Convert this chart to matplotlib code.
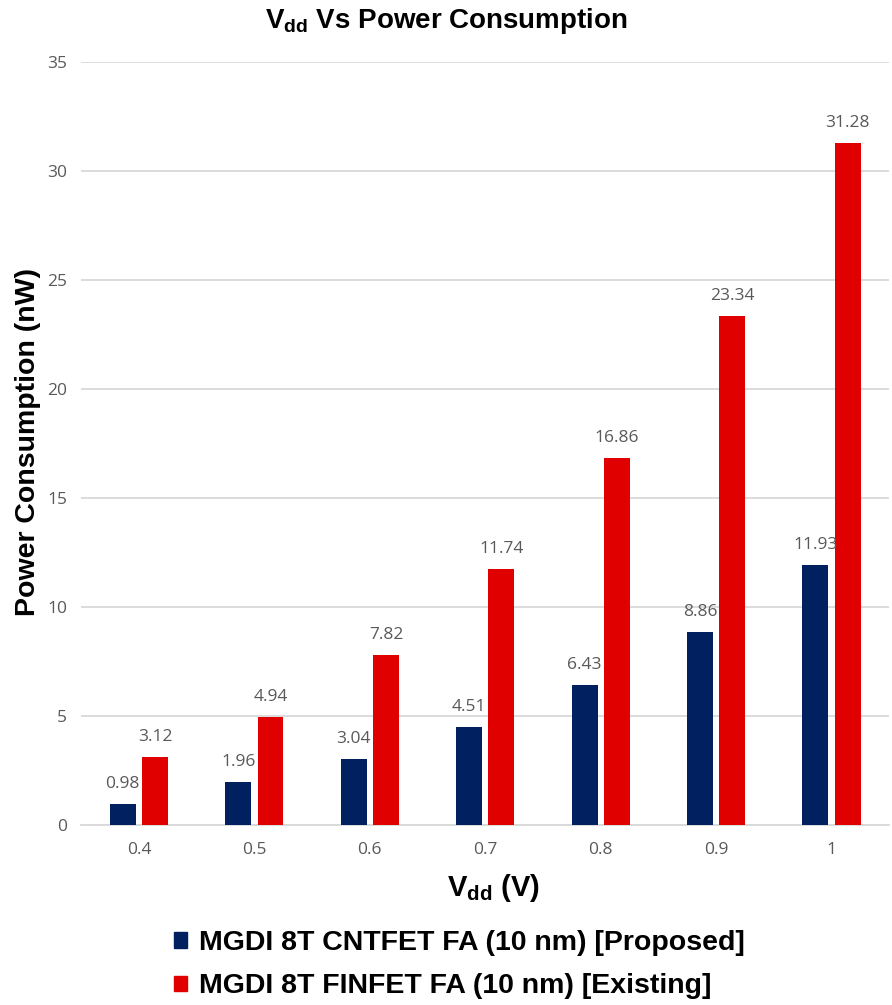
import matplotlib
matplotlib.use('Agg')
import matplotlib.pyplot as plt
from matplotlib.patches import Patch
import numpy as np

# supply voltages and measured power (nW)
vdd = ['0.4', '0.5', '0.6', '0.7', '0.8', '0.9', '1']
cntfet = [0.98, 1.96, 3.04, 4.51, 6.43, 8.86, 11.93]
finfet = [3.12, 4.94, 7.82, 11.74, 16.86, 23.34, 31.28]
series_names = ['MGDI 8T CNTFET FA (10 nm) [Proposed]',
                'MGDI 8T FINFET FA (10 nm) [Existing]']

blue = '#002060'
red = '#E00000'
tick_grey = '#595959'

plt.rcParams['mathtext.fontset'] = 'custom'
plt.rcParams['mathtext.rm'] = 'Liberation Sans'
plt.rcParams['mathtext.bf'] = 'Liberation Sans:bold'

fig = plt.figure(figsize=(8.92, 10.05), dpi=100)
ax = fig.add_axes([0.091, 0.179, 0.906, 0.759])

x = np.arange(len(vdd))
w = 0.225
off = 0.14
ax.bar(x - off, cntfet, width=w, color=blue, zorder=3)
ax.bar(x + off, finfet, width=w, color=red, zorder=3)

# value labels above each bar
for xi, a, b in zip(x, cntfet, finfet):
    ax.text(xi - off, a + 0.55, f'{a:.2f}', ha='center', va='bottom',
            fontsize=12.5, color=tick_grey, family='Open Sans')
    ax.text(xi + off, b + 0.55, f'{b:.2f}', ha='center', va='bottom',
            fontsize=12.5, color=tick_grey, family='Open Sans')

ax.set_xlim(-0.5, len(vdd) - 0.5)
ax.set_ylim(0, 35)
ax.set_yticks(range(0, 36, 5))
ax.set_xticks(x)
ax.set_xticklabels(vdd)
ax.yaxis.grid(True, color='#D9D9D9', linewidth=1.3, zorder=0)
ax.set_axisbelow(True)
for s in ['top', 'right', 'left']:
    ax.spines[s].set_visible(False)
ax.spines['bottom'].set_color('#D9D9D9')
ax.spines['bottom'].set_linewidth(1.3)
ax.tick_params(axis='both', length=0, labelsize=12.5, labelcolor=tick_grey, pad=12)
for lbl in ax.get_xticklabels() + ax.get_yticklabels():
    lbl.set_family('Open Sans')
ax.tick_params(axis='y', pad=10)

fig.text(0.5, 0.979, r'$\mathbf{V_{dd}}$ Vs Power Consumption', ha='center', va='center',
         fontsize=20, fontweight='bold', family='Liberation Sans')
fig.text(0.031, 0.56, 'Power Consumption (nW)', rotation=90, ha='center', va='center',
         fontsize=20.5, fontweight='bold', family='Liberation Sans')
fig.text(0.553, 0.116, r'$\mathbf{V_{dd}}$ (V)', ha='center', va='center',
         fontsize=21, fontweight='bold', family='Liberation Sans')

handles = [Patch(color=blue), Patch(color=red)]
fig.legend(handles, series_names, loc='center', bbox_to_anchor=(0.515, 0.040),
           frameon=False, handlelength=0.45, handleheight=0.45, handletextpad=0.4,
           labelspacing=0.6, prop={'family': 'Liberation Sans', 'weight': 'bold', 'size': 20.5})

fig.savefig('out.png', dpi=100)
